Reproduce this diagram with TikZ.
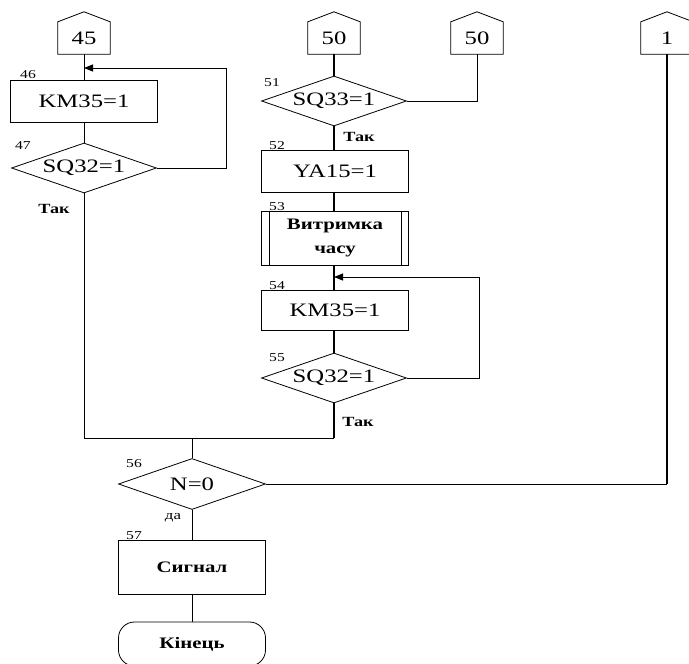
\documentclass[tikz,border=0pt]{standalone}
\usepackage{fontspec}
\setmainfont{Liberation Serif}
\usepackage{graphicx}
\usetikzlibrary{arrows.meta,positioning,shapes.geometric}

\newcommand{\wide}[1]{\scalebox{1.3}[1]{#1}}

\tikzset{
  procbox/.style={draw,rectangle,minimum width=147pt,minimum height=42pt,inner sep=0pt,line width=0.8pt,font=\fontsize{19}{21}\selectfont},
  decide/.style={draw,diamond,aspect=2.9,minimum width=145pt,minimum height=50pt,inner sep=0pt,line width=0.8pt,font=\fontsize{19}{21}\selectfont},
  offpage/.style={rectangle,minimum width=52pt,minimum height=32pt,inner sep=0pt,font=\fontsize{19}{21}\selectfont},
  numlbl/.style={font=\fontsize{12}{13}\selectfont,inner sep=0pt},
  yeslbl/.style={font=\bfseries\fontsize{14}{15}\selectfont,inner sep=0pt},
  boldtxt/.style={font=\bfseries\fontsize{16}{24}\selectfont},
  flow/.style={line width=0.8pt},
  flowthick/.style={line width=1.8pt},
  back/.style={line width=0.8pt,-{Triangle[length=9pt,width=7pt]}}
}

\begin{document}
\begin{tikzpicture}[x=1pt,y=-1pt]
  \useasboundingbox (0,0) rectangle (689,664);

  % off-page connectors
  \node[offpage] (c45) at (84,38) {\wide{45}};
  \node[offpage] (c50a) at (334,38) {\wide{50}};
  \node[offpage] (c50b) at (477,38) {\wide{50}};
  \node[offpage] (c1) at (667,38) {\wide{1}};
  \foreach \c in {c45,c50a,c50b,c1}
    \draw[flow] (\c.south west) -- (\c.north west) -- ([yshift=10pt]\c.north) -- (\c.north east) -- (\c.south east) -- cycle;

  % left branch
  \node[procbox] (b46) at (84,101) {\wide{KM35=1}};
  \node[decide] (d47) at (84,168) {\wide{SQ32=1}};

  % middle branch
  \node[decide] (d51) at (334,101) {\wide{SQ33=1}};
  \node[procbox] (b52) at (335,171) {\wide{YA15=1}};
  \node[procbox,boldtxt,minimum height=54pt,align=center] (b53) at (335,238)
    {\wide{Витримка}\\\wide{часу}};
  \draw[flow] ([xshift=8pt]b53.north west) -- ([xshift=8pt]b53.south west);
  \draw[flow] ([xshift=-8pt]b53.north east) -- ([xshift=-8pt]b53.south east);
  \node[procbox,minimum height=40pt] (b54) at (335,310) {\wide{KM35=1}};
  \node[decide] (d55) at (334,378) {\wide{SQ32=1}};

  % bottom
  \node[decide,minimum width=147pt,minimum height=51pt] (d56) at (192,484) {\wide{N=0}};
  \node[procbox,boldtxt,minimum height=54pt] (b57) at (192,567) {\wide{Сигнал}};
  \node[procbox,boldtxt,rounded corners=16pt,minimum height=44pt] (t58) at (192,644) {\wide{Кінець}};

  % block numbers
  \node[numlbl] (n46) at (28,75) {\wide{46}};
  \node[numlbl] (n47) at (23,146) {\wide{47}};
  \node[numlbl] (n51) at (272,83) {\wide{51}};
  \node[numlbl] (n52) at (277,146) {\wide{52}};
  \node[numlbl] (n53) at (277,207) {\wide{53}};
  \node[numlbl] (n54) at (277,286) {\wide{54}};
  \node[numlbl] (n55) at (277,358) {\wide{55}};
  \node[numlbl] (n56) at (134,464) {\wide{56}};
  \node[numlbl] (n57) at (134,536) {\wide{57}};

  % branch labels
  \node[yeslbl] (y47) at (54,209) {\wide{Так}};
  \node[yeslbl] (y51) at (359,137) {\wide{Так}};
  \node[yeslbl] (y55) at (358,422) {\wide{Так}};
  \node[font=\fontsize{13}{14}\selectfont,inner sep=0pt] (y56) at (173,518) {\wide{да}};

  % joints
  \coordinate (j1) at (84,68);
  \coordinate (j2) at (334,277);
  \coordinate (m) at (192,438);
  \coordinate (m55) at (334,438);
  \coordinate (k1) at (c1.south |- d56.east);

  % connectors
  \draw[flow] (c45.south) -- (b46.north);
  \draw[flow] (b46.south) -- (d47.north);
  \draw[back] (d47.east) -- ++(69,0) |- (j1);
  \draw[flow] (d47.south) |- (m);

  \draw[flowthick] (c50a.south) -- (d51.north);
  \draw[flow] (c50b.south) |- (d51.east);
  \draw[flowthick] (d51.south) -- (b52.north -| d51.south);
  \draw[flowthick] (b52.south -| j2) -- (b53.north -| j2);
  \draw[flowthick] (b53.south -| j2) -- (b54.north -| j2);
  \draw[back] (d55.east) -- ++(72,0) |- (j2);
  \draw[flowthick] (b54.south -| j2) -- (d55.north);
  \draw[flowthick] (d55.south) -- (m55);
  \draw[flow] (m55) -- (m);

  \draw[flow] (m) -- (d56.north);
  \draw[flowthick] (c1.south) -- (k1);
  \draw[flow] (k1) -- (d56.east);
  \draw[flow] (d56.south) -- (b57.north);
  \draw[flow] (b57.south) -- (t58.north);
\end{tikzpicture}
\end{document}
